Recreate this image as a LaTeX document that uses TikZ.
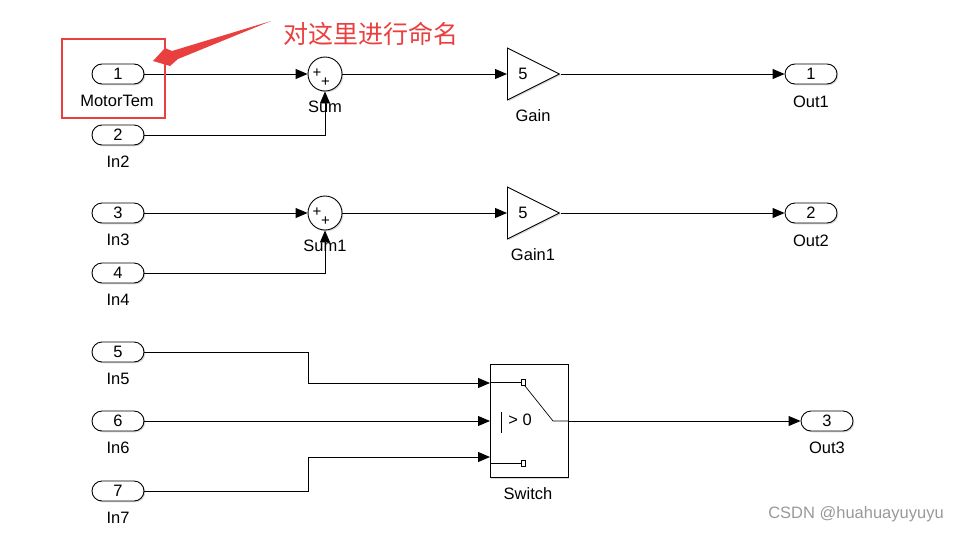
\documentclass[tikz,border=0pt]{standalone}
\usepackage{fontspec}
\setmainfont{Liberation Sans}
\newfontfamily\cjkfont{Noto Sans CJK SC}
\usepackage{xcolor}
\usetikzlibrary{arrows.meta,shapes.geometric,shadows}
\definecolor{notered}{RGB}{234,63,63}

\begin{document}
\begin{tikzpicture}[x=1pt,y=-1pt]
\tikzset{every node/.style={font=\fontsize{16.5}{19}\selectfont}}
\tikzset{blk/.style={draw,line width=0.9pt,fill=white,drop shadow={shadow xshift=1.3pt,shadow yshift=-1.3pt,opacity=0.3}}}
\tikzset{port/.style={blk,rectangle,rounded corners=10pt,minimum width=52,minimum height=20,inner sep=0pt}}
\tikzset{sumblk/.style={blk,circle,minimum size=34,inner sep=0pt}}
\tikzset{gainblk/.style={blk,isosceles triangle,isosceles triangle stretches,shape border rotate=0,minimum width=52,minimum height=52,inner sep=0pt,anchor=west}}
\tikzset{plus/.style={font=\fontsize{15}{17}\selectfont,inner sep=0pt}}
\tikzset{lbl/.style={inner sep=0pt}}
\tikzset{wire/.style={line width=0.9pt,-{Triangle[length=12pt,width=10pt]}}}
\tikzset{inner/.style={line width=0.7pt}}

\useasboundingbox (0,0) rectangle (960,533);

\node[port] (in1) at (118,74) {1};
\node[lbl] (in1-name) at (117,101) {MotorTem};
\foreach \n/\y in {2/135,3/213,4/273,5/352,6/421,7/491} {
  \node[port] (in\n) at (118,\y) {\n};
  \node[lbl] (in\n-name) at (118,\y+27) {In\n};
}

\node[sumblk] (sum) at (325,74) {};
\node[plus] (sum-p1) at (317,73.5) {+};
\node[plus] (sum-p2) at (325.5,82.5) {+};
\node[lbl] (sum-name) at (325,107) {Sum};
\node[sumblk] (sum1) at (325,213) {};
\node[plus] (sum1-p1) at (317,212.5) {+};
\node[plus] (sum1-p2) at (325.5,221.5) {+};
\node[lbl] (sum1-name) at (325,246) {Sum1};

\node[gainblk] (gain) at (507,74) {};
\node[lbl] (gain-k) at (523,74) {5};
\node[lbl] (gain-name) at (533,116) {Gain};
\node[gainblk] (gain1) at (507,213) {};
\node[lbl] (gain1-k) at (523,213) {5};
\node[lbl] (gain1-name) at (533,255) {Gain1};

\node[port] (out1) at (811,74) {1};
\node[lbl] (out1-name) at (811,102) {Out1};
\node[port] (out2) at (811,213) {2};
\node[lbl] (out2-name) at (811,241) {Out2};
\node[port] (out3) at (827,421) {3};
\node[lbl] (out3-name) at (827,448) {Out3};

\node[blk,rectangle,minimum width=78,minimum height=113,inner sep=0pt] (switch) at (529,421) {};
\node[lbl] (switch-name) at (528,494) {Switch};
\coordinate (sw-a) at (490,383);
\coordinate (sw-b) at (490,421);
\coordinate (sw-c) at (490,457);
\draw[inner] (490,382) -- (521,382) (521,379) rectangle (525,385);
\draw[inner] (490,463) -- (521,463) (521,460) rectangle (525,466);
\draw[inner] (525,386) -- (553,421) -- (switch.east);
\draw[inner] (501,412) -- (501,433);
\node[lbl] (switch-cmp) at (520,420) {> 0};

\draw[wire] (in1) -- (sum);
\draw[wire] (in2.east) -| (sum.south);
\draw[wire] (sum) -- (gain.west);
\draw[wire] (gain.apex) -- (out1);
\draw[wire] (in3) -- (sum1);
\draw[wire] (in4.east) -| (sum1.south);
\draw[wire] (sum1) -- (gain1.west);
\draw[wire] (gain1.apex) -- (out2);
\draw[wire] (in5.east) -- ++(164,0) |- (sw-a);
\draw[wire] (in6) -- (sw-b);
\draw[wire] (in7.east) -- ++(164,0) |- (sw-c);
\draw[wire] (switch.east) -- (out3);

\node[draw=notered,line width=2.4pt,minimum width=103,minimum height=79,inner sep=0pt] (frame) at (113.5,78.5) {};
\node[text=notered,font=\cjkfont\fontsize{25}{28}\selectfont] (note) at (371,34) {对这里进行命名};
\fill[notered] (153,61) -- (165,48) -- (172,51) -- (271,21) -- (178,59) -- (170,66) -- cycle;

\node[text=black!40,font=\fontsize{16.5}{19}\selectfont] (mark) at (856,514) {CSDN @huahuayuyuyu};

\end{tikzpicture}
\end{document}
